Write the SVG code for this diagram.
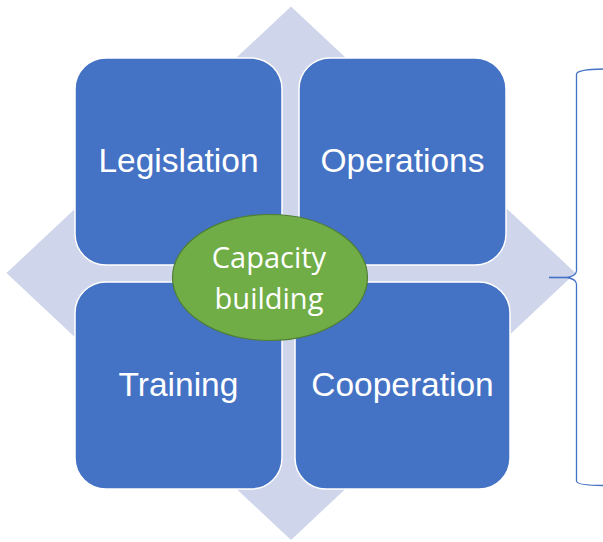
<svg xmlns="http://www.w3.org/2000/svg" width="603" height="542" viewBox="0 0 603 542">
<style>
.box{fill:#4472C4;stroke:#FFFFFF;stroke-width:1.5}
.lbl{font-family:"Liberation Sans",Arial,sans-serif;font-size:33.5px;fill:#FFFFFF;text-anchor:middle}
.cap{font-family:"Open Sans","Noto Sans",sans-serif;font-size:29px;fill:#FFFFFF;text-anchor:middle}
.brace{fill:none;stroke:#4472C4;stroke-width:1.3}
</style>
<rect width="603" height="542" fill="#FFFFFF"/>
<g id="diamond">
<polygon points="291,6.5 575.5,273 291,540 6.5,273" fill="#CFD5EA"/>
</g>
<g id="legislation">
<rect class="box" x="75" y="58" width="207" height="207" rx="31" ry="31"/>
<text class="lbl" x="178.5" y="172">Legislation</text>
</g>
<g id="operations">
<rect class="box" x="299" y="58" width="207" height="207" rx="31" ry="31"/>
<text class="lbl" x="402.5" y="172">Operations</text>
</g>
<g id="training">
<rect class="box" x="75" y="282" width="207" height="207" rx="31" ry="31"/>
<text class="lbl" x="178.5" y="396">Training</text>
</g>
<g id="cooperation">
<rect class="box" x="295" y="282" width="215" height="207" rx="31" ry="31"/>
<text class="lbl" x="402.5" y="396">Cooperation</text>
</g>
<g id="capacity">
<ellipse cx="270" cy="277.5" rx="97.5" ry="63" fill="#70AD47" stroke="#507E32" stroke-width="1.2"/>
<text class="cap" x="269" y="268">Capacity</text>
<text class="cap" x="269" y="309">building</text>
</g>
<g id="connectors">
<path class="brace" d="M603,69 Q577,69.5 576.5,74 L576.5,271 Q576,276 567,277.5 Q576,279 576.5,284 L576.5,481 Q577,485.5 603,485.5"/>
<line x1="549" y1="277.5" x2="567" y2="277.5" stroke="#4472C4" stroke-width="1.6"/>
</g>
</svg>
